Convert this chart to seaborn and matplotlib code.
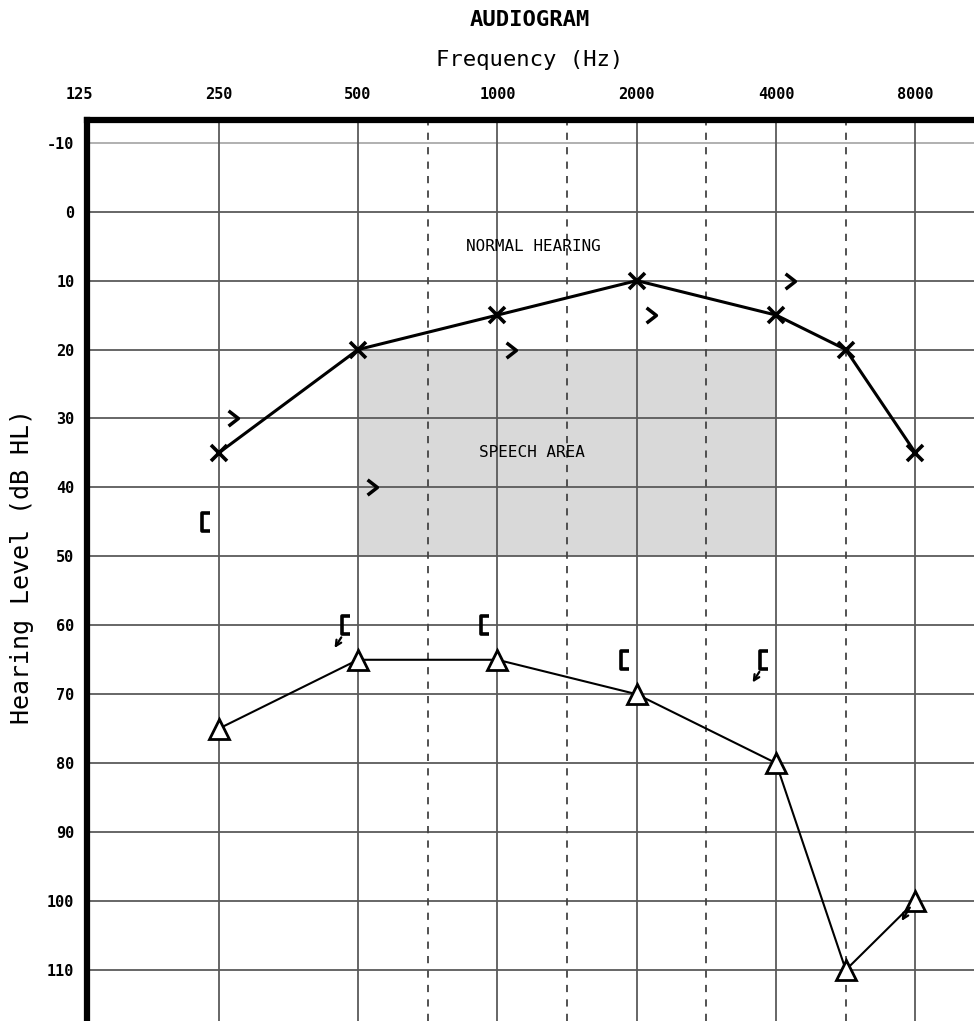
import numpy as np
import matplotlib
matplotlib.use("Agg")
import matplotlib.pyplot as plt
import matplotlib.transforms as mtransforms
from matplotlib.path import Path
import seaborn as sns

# 数据
freqs = [250, 500, 1000, 2000, 4000, 6000, 8000]
left_air = [35, 20, 15, 10, 15, 20, 35]
right_air = [75, 65, 65, 70, 80, 110, 100]
right_air_noresp = [False, False, False, False, False, False, True]

bone_freqs = [250, 500, 1000, 2000, 4000]
left_bone = [30, 40, 20, 15, 10]
right_bone = [45, 60, 60, 65, 65]
right_bone_noresp = [False, True, False, False, True]

octave_ticks = [125, 250, 500, 1000, 2000, 4000, 8000]
half_octaves = [750, 1500, 3000, 6000]
db_ticks = list(range(-10, 111, 10))
speech_freq = [500, 4000]
speech_db = [20, 50]

sns.set_style("white")
plt.rcParams['font.family'] = ['DejaVu Sans Mono']
plt.rcParams['text.color'] = 'black'
plt.rcParams['xtick.color'] = 'black'
plt.rcParams['ytick.color'] = 'black'

# 听力图刻度: 倍频程等距, 半倍频程在中间
scale_f = np.log2([62.5, 125, 250, 500, 750, 1000, 1500, 2000, 3000, 4000, 6000, 8000, 16000])
scale_p = np.array([-1, 0, 1, 2, 2.5, 3, 3.5, 4, 4.5, 5, 5.5, 6, 7])


def forward(f):
    return np.interp(np.log2(np.maximum(f, 1e-9)), scale_f, scale_p)


def inverse(p):
    return 2 ** np.interp(p, scale_p, scale_f)


fig = plt.figure(figsize=(9.74, 10.21), dpi=100)
ax = fig.add_axes([87 / 974, 0.0, 1 - 87 / 974, 1 - 120 / 1021])

ax.set_xscale('function', functions=(forward, inverse))
ax.set_xlim(inverse(0.055), inverse(6.42))
ax.set_ylim(117.4, -13.3)

# 网格
for d in db_ticks:
    ax.axhline(d, color='#aaaaaa' if d == -10 else '#5a5a5a', lw=1.3, zorder=1)
for f in octave_ticks[1:]:
    ax.axvline(f, color='#5a5a5a', lw=1.3, zorder=1)
for f in half_octaves:
    ax.axvline(f, color='#444444', lw=1.3, ls=(0, (4, 4)), zorder=1)

# 言语区
ax.fill_between(speech_freq, speech_db[0], speech_db[1], color='#d9d9d9', zorder=0.5, lw=0)
ax.text(inverse(3.26), 5, 'NORMAL HEARING', ha='center', va='center', fontsize=11.5, zorder=3)
ax.text(inverse(3.25), 35, 'SPEECH AREA', ha='center', va='center', fontsize=11.5, zorder=3)

# 气导
sns.lineplot(x=freqs, y=left_air, ax=ax, color='black', lw=2.2, marker='x',
             markersize=11, mew=2.6, mec='black', zorder=4)
sns.lineplot(x=freqs, y=right_air, ax=ax, color='black', lw=1.5, marker='^',
             markersize=14, mew=2, mfc='white', mec='black', zorder=4)

# 骨导标记
chevron = Path([(-0.45, 0.7), (0.45, 0.0), (-0.45, -0.7)], [Path.MOVETO, Path.LINETO, Path.LINETO])
bracket = Path([(0.45, 0.8), (-0.25, 0.8), (-0.25, -0.8), (0.45, -0.8)],
               [Path.MOVETO, Path.LINETO, Path.LINETO, Path.LINETO])


def offset(dx, dy):
    return ax.transData + mtransforms.ScaledTranslation(dx / 72, dy / 72, fig.dpi_scale_trans)


ax.plot(bone_freqs, left_bone, ls='none', marker=chevron, markersize=11, mew=2.5,
        mfc='none', mec='black', transform=offset(10, 0), zorder=5)
ax.plot(bone_freqs, right_bone, ls='none', marker=bracket, markersize=12.5, mew=2.6,
        mfc='none', mec='black', transform=offset(-9.5, 0), zorder=5)

arrow_style = dict(arrowstyle='->', color='black', lw=1.6, mutation_scale=10)
for f, v, nr in zip(bone_freqs, right_bone, right_bone_noresp):
    if nr:
        ax.annotate('', xy=(f, v), xycoords=offset(-18, -18), xytext=(f, v),
                    textcoords=offset(-11, -7), arrowprops=arrow_style, zorder=5)
for f, v, nr in zip(freqs, right_air, right_air_noresp):
    if nr:
        ax.annotate('', xy=(f, v), xycoords=offset(-11, -16), xytext=(f, v),
                    textcoords=offset(-3, -3), arrowprops=arrow_style, zorder=5)

# 坐标轴
ax.xaxis.tick_top()
ax.set_xticks(octave_ticks[1:])
ax.set_xticklabels([str(f) for f in octave_ticks[1:]], fontsize=11, fontweight='bold')
ax.minorticks_off()
ax.tick_params(axis='x', length=0, pad=13)
ax.text(octave_ticks[0], 1.0 + 18 / 901, str(octave_ticks[0]), transform=ax.get_xaxis_transform(),
        ha='center', va='bottom', fontsize=11, fontweight='bold', clip_on=False)

ax.set_yticks(db_ticks)
ax.set_yticklabels([str(d) for d in db_ticks], fontsize=11, fontweight='bold')
ax.tick_params(axis='y', length=0, pad=9)

for s in ['right', 'bottom']:
    ax.spines[s].set_visible(False)
for s in ['left', 'top']:
    ax.spines[s].set_linewidth(4.5)
    ax.spines[s].set_color('black')

fig.text(530 / 974, 1 - 20 / 1021, 'AUDIOGRAM', ha='center', va='center', fontsize=16, fontweight='bold')
fig.text(530 / 974, 1 - 60 / 1021, 'Frequency (Hz)', ha='center', va='center', fontsize=16)
fig.text(22 / 974, 1 - 566 / 1021, 'Hearing Level (dB HL)', ha='center', va='center',
         rotation=90, fontsize=18)

fig.savefig('out.png', dpi=100)
